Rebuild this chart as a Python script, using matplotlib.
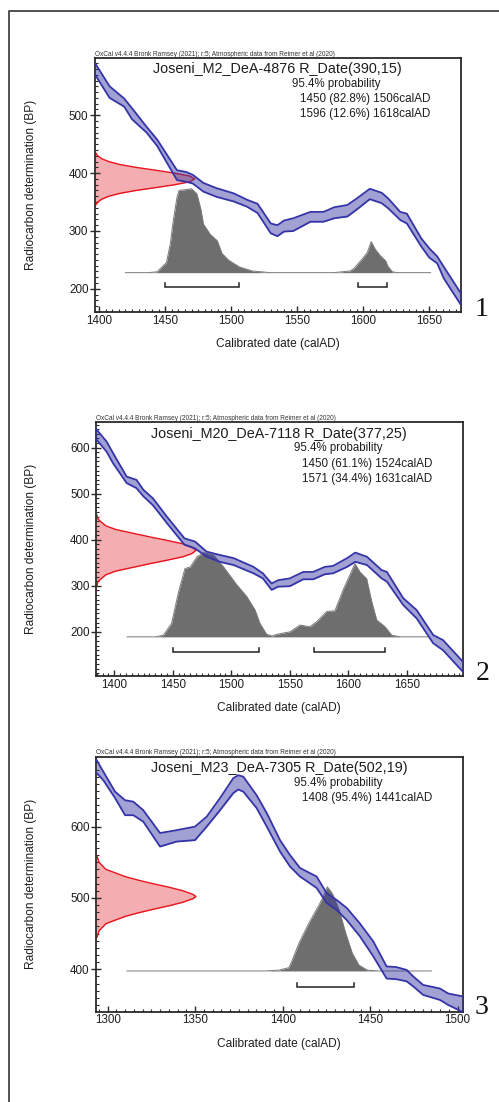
import matplotlib
matplotlib.use('Agg')
import matplotlib.pyplot as plt
from matplotlib.ticker import MultipleLocator
from matplotlib.lines import Line2D
import numpy as np

plt.rcParams['font.family'] = ['Liberation Sans', 'DejaVu Sans']

# ---------------- DATA ----------------
header = "OxCal v4.4.4 Bronk Ramsey (2021); r:5; Atmospheric data from Reimer et al (2020)"
xlabel = "Calibrated date (calAD)"
ylabel = "Radiocarbon determination (BP)"

# Panel 1
p1_title = "Joseni_M2_DeA-4876 R_Date(390,15)"
p1_lines = ["1450 (82.8%) 1506calAD", "1596 (12.6%) 1618calAD"]
p1_ranges = [(1450, 1506), (1596, 1618)]
p1_curve_yr = [1397, 1408, 1419, 1425, 1436, 1444, 1459, 1466, 1471, 1479, 1489, 1502, 1512, 1520, 1530, 1535, 1540,
               1547, 1560, 1570, 1578, 1588, 1595, 1605, 1614, 1619, 1628, 1633, 1644, 1650, 1656, 1661, 1674]
p1_curve_hi = [590, 550, 529, 512, 480, 458, 405, 402, 397, 383, 374, 365, 354, 347, 313, 310, 318,
               322, 333, 333, 341, 345, 356, 373, 366, 356, 333, 330, 287, 270, 256, 238, 192]
p1_curve_lo = [570, 530, 515, 493, 470, 447, 388, 385, 382, 368, 359, 351, 342, 331, 296, 291, 299,
               300, 316, 316, 322, 325, 337, 355, 348, 339, 319, 313, 273, 254, 244, 218, 172]
p1_post_yr = [1420, 1437, 1444, 1449, 1451, 1454, 1456, 1459, 1460.5, 1466, 1470, 1474, 1477, 1479, 1484, 1489.5,
              1493, 1498, 1506, 1516, 1530, 1577.5, 1590, 1593, 1599, 1603, 1606, 1609, 1613, 1617, 1618.5, 1622,
              1626, 1651]
p1_post_rel = [0, 0, 0.01, 0.09, 0.12, 0.35, 0.6, 0.9, 0.98, 0.99, 1.0, 0.94, 0.76, 0.58, 0.46, 0.38,
               0.23, 0.15, 0.07, 0.02, 0, 0, 0.02, 0.05, 0.16, 0.24, 0.37, 0.28, 0.20, 0.14, 0.08, 0.01,
               0, 0]
p1_red_bp = [435, 430, 425, 420, 415, 410, 405, 400, 395, 390, 385, 380, 375, 370, 365, 360, 355, 350, 345]
p1_red_rel = [0.01, 0.03, 0.07, 0.14, 0.25, 0.41, 0.61, 0.80, 0.95, 1.0, 0.95, 0.80, 0.61, 0.41, 0.25, 0.14,
              0.07, 0.03, 0.01]

# Panel 2
p2_title = "Joseni_M20_DeA-7118 R_Date(377,25)"
p2_lines = ["1450 (61.1%) 1524calAD", "1571 (34.4%) 1631calAD"]
p2_ranges = [(1450, 1524), (1571, 1631)]
p2_curve_yr = [1384, 1393.5, 1399, 1410.6, 1419, 1425, 1433, 1445, 1460, 1469, 1479, 1490, 1502, 1519, 1527,
               1534.5, 1540, 1550, 1561.5, 1570, 1580, 1587, 1599, 1606, 1616, 1628.5, 1633, 1647, 1658.5,
               1672.6, 1681, 1698]
p2_curve_hi = [642, 613, 588, 537, 530, 508, 490, 450, 403, 396, 374, 367, 360, 341, 327,
               305, 312, 316, 330, 330, 341, 343, 360, 372, 363, 334, 330, 273, 247,
               193, 182, 135]
p2_curve_lo = [620, 591, 566, 523, 512, 494, 475, 436, 389, 381, 363, 352, 345, 327, 316,
               291, 298, 299, 314, 314, 325, 327, 341, 352, 345, 316, 309, 258, 229,
               175, 160, 113]
p2_post_yr = [1411, 1435, 1442, 1449, 1454.7, 1460.4, 1465, 1470.7, 1476.4, 1485, 1493.4, 1504.6, 1513.2,
              1520.3, 1524.5, 1530.2, 1535, 1538.8, 1550.2, 1558.7, 1567.2, 1573, 1581.5, 1588.6, 1595.7,
              1605.7, 1610, 1615.7, 1620, 1624.3, 1631.4, 1637.1, 1645, 1668]
p2_post_rel = [0, 0, 0.02, 0.16, 0.52, 0.81, 0.83, 0.95, 1.0, 0.97, 0.83, 0.62, 0.48,
               0.32, 0.16, 0.03, 0.01, 0.03, 0.06, 0.14, 0.12, 0.18, 0.30, 0.31, 0.56,
               0.87, 0.77, 0.69, 0.42, 0.20, 0.12, 0.02, 0, 0]
p2_red_bp = [453, 445, 437, 430, 422, 414, 406, 399, 391, 384, 377, 370, 363, 355, 348, 340, 332, 324, 317,
             309, 301]
p2_red_rel = [0.01, 0.02, 0.06, 0.10, 0.20, 0.37, 0.54, 0.70, 0.87, 0.96, 1.0, 0.96, 0.87, 0.70, 0.54, 0.37,
              0.20, 0.10, 0.06, 0.02, 0.01]

# Panel 3
p3_title = "Joseni_M23_DeA-7305 R_Date(502,19)"
p3_lines = ["1408 (95.4%) 1441calAD"]
p3_ranges = [(1408, 1441)]
p3_curve_yr = [1293.7, 1297.5, 1304.2, 1309.9, 1314.6, 1320.3, 1329.9, 1339.4, 1349.9, 1356.6, 1364.2, 1371.8,
               1374.6, 1377.5, 1385.1, 1390.9, 1398.5, 1404.2, 1409.9, 1419.4, 1425.1, 1430.9, 1436.6, 1444.2,
               1451.8, 1459.4, 1465.1, 1470.9, 1474.6, 1480.3, 1489.9, 1494.6, 1502.9]
p3_curve_hi = [693, 677, 649, 637, 635, 623, 591, 595, 600, 614, 640, 668,
               672, 670, 644, 619, 581, 560, 542, 530, 507, 497, 486, 464,
               439, 404, 403, 399, 390, 378, 373, 366, 362]
p3_curve_lo = [675, 665, 640, 616, 616, 607, 572, 579, 581, 600, 623, 647,
               652, 649, 626, 600, 565, 544, 530, 514, 493, 483, 469, 446,
               418, 387, 386, 383, 376, 364, 357, 350, 340]
p3_post_yr = [1311, 1390, 1398, 1403.6, 1405.5, 1409.3, 1415, 1420.7, 1423.6, 1425.5, 1428.4, 1432.2, 1436,
              1439.8, 1443.6, 1448.4, 1455, 1485]
p3_post_rel = [0, 0, 0.01, 0.04, 0.13, 0.33, 0.57, 0.78, 0.90, 1.0, 0.92, 0.73, 0.45,
               0.21, 0.07, 0.01, 0, 0]
p3_red_bp = [559, 550, 540, 530, 525, 520, 515, 510, 505, 502, 499, 494, 489, 484, 479, 474, 464, 454, 445]
p3_red_rel = [0.01, 0.03, 0.10, 0.29, 0.42, 0.57, 0.73, 0.87, 0.97, 1.0, 0.97, 0.87, 0.73, 0.57, 0.42, 0.29,
              0.10, 0.03, 0.01]

# ---------------- LAYOUT ----------------
W, H = 499, 1102
fig = plt.figure(figsize=(W / 100, H / 100), dpi=100)


def fx(px):
    return px / W


def fy(py):
    return 1 - py / H


panels = [
    dict(rect=(94.7, 58, 461, 312), xlim=(1396.7, 1674), ylim=(160, 599), xmaj=50,
         title=p1_title, lines=p1_lines, ranges=p1_ranges,
         cyr=p1_curve_yr, chi=p1_curve_hi, clo=p1_curve_lo,
         pyr=p1_post_yr, prel=p1_post_rel, base=228, ph=145, bry=203.5,
         rbp=p1_red_bp, rrel=p1_red_rel, num="1", numpos=(482, 310)),
    dict(rect=(96, 422.3, 462.7, 676), xlim=(1384.4, 1697.8), ylim=(104, 655), xmaj=50,
         title=p2_title, lines=p2_lines, ranges=p2_ranges,
         cyr=p2_curve_yr, chi=p2_curve_hi, clo=p2_curve_lo,
         pyr=p2_post_yr, prel=p2_post_rel, base=189, ph=183, bry=156.5,
         rbp=p2_red_bp, rrel=p2_red_rel, num="2", numpos=(483, 674)),
    dict(rect=(96, 756.7, 462.7, 1011.7), xlim=(1293.3, 1502.9), ylim=(340.5, 698), xmaj=50,
         title=p3_title, lines=p3_lines, ranges=p3_ranges,
         cyr=p3_curve_yr, chi=p3_curve_hi, clo=p3_curve_lo,
         pyr=p3_post_yr, prel=p3_post_rel, base=397.6, ph=118, bry=375.6,
         rbp=p3_red_bp, rrel=p3_red_rel, num="3", numpos=(481, 1007)),
]

TXT = '#1e1e1e'
for p in panels:
    l, t, r, b = p['rect']
    ax = fig.add_axes([fx(l), fy(b), (r - l) / W, (b - t) / H])
    ax.set_xlim(*p['xlim'])
    ax.set_ylim(*p['ylim'])
    xmin = p['xlim'][0]
    px_per_yr = (r - l) / (p['xlim'][1] - p['xlim'][0])
    px_per_bp = (b - t) / (p['ylim'][1] - p['ylim'][0])

    # radiocarbon date (red)
    amp = 100 / px_per_yr
    rx = xmin + np.array(p['rrel']) * amp
    ax.fill_betweenx(p['rbp'], xmin, rx, color='#e01018', alpha=0.34, lw=0, zorder=1)
    ax.plot(rx, p['rbp'], color='#e8141c', lw=1.0, zorder=2)

    # calibrated distribution (grey)
    gy = p['base'] + np.array(p['prel']) * p['ph']
    ax.fill_between(p['pyr'], p['base'], gy, color='#6e6e6e', lw=0, zorder=2)
    ax.plot(p['pyr'], gy, color='#7a7a7a', lw=0.7, zorder=3)

    # calibration curve (blue band)
    ax.fill_between(p['cyr'], p['clo'], p['chi'], color='#3030a0', alpha=0.45, lw=0, zorder=4)
    ax.plot(p['cyr'], p['chi'], color='#3434a8', lw=1.3, zorder=5)
    ax.plot(p['cyr'], p['clo'], color='#3434a8', lw=1.3, zorder=5)

    # range brackets
    th = 4 / px_per_bp
    for a, c in p['ranges']:
        ax.plot([a, a, c, c], [p['bry'] + th, p['bry'], p['bry'], p['bry'] + th],
                color='#222222', lw=1.1, zorder=6, solid_joinstyle='miter')

    # axes styling
    for s in ax.spines.values():
        s.set_color('#2a2a2a')
        s.set_linewidth(1.3)
    ax.xaxis.set_major_locator(MultipleLocator(p['xmaj']))
    ax.xaxis.set_minor_locator(MultipleLocator(5))
    ax.yaxis.set_major_locator(MultipleLocator(100))
    ax.yaxis.set_minor_locator(MultipleLocator(10))
    ax.tick_params(axis='x', which='major', direction='in', length=4.5, width=1, labelsize=8.4,
                   pad=2, colors='#2a2a2a', labelcolor=TXT)
    ax.tick_params(axis='y', which='major', direction='inout', length=7, width=1, labelsize=8.4,
                   pad=1, colors='#2a2a2a', labelcolor=TXT)
    ax.tick_params(which='minor', direction='in', length=2.2, width=0.8, colors='#2a2a2a')
    ax.tick_params(top=False, right=False, which='both')

    # texts
    cx = (l + r) / 2
    fig.text(fx(l), fy(t - 4), header, fontsize=4.7, color='#333333', ha='left', va='center')
    fig.text(fx(cx), fy(t + 11.5), p['title'], fontsize=10.4, color=TXT, ha='center', va='center')
    fig.text(fx(l + 197.5), fy(t + 26), "95.4% probability", fontsize=8.3, color=TXT, ha='left', va='center')
    for i, s in enumerate(p['lines']):
        fig.text(fx(l + 205.5), fy(t + 41.2 + 15.2 * i), s, fontsize=8.4, color=TXT, ha='left', va='center')
    fig.text(fx(cx), fy(b + 32), xlabel, fontsize=8.6, color=TXT, ha='center', va='center')
    fig.text(fx(31), fy((t + b) / 2), ylabel, fontsize=8.6, color=TXT, ha='center', va='center',
             rotation=90)
    fig.text(fx(p['numpos'][0]), fy(p['numpos'][1]), p['num'], fontsize=20, color='#111111',
             family='Liberation Serif', ha='center', va='center')

# outer frame (left and top edges)
fig.add_artist(Line2D([fx(9), fx(9), fx(499)], [fy(1102), fy(11), fy(11)], color='#333333', lw=1.2))

fig.savefig('out.png', dpi=100, facecolor='white')
